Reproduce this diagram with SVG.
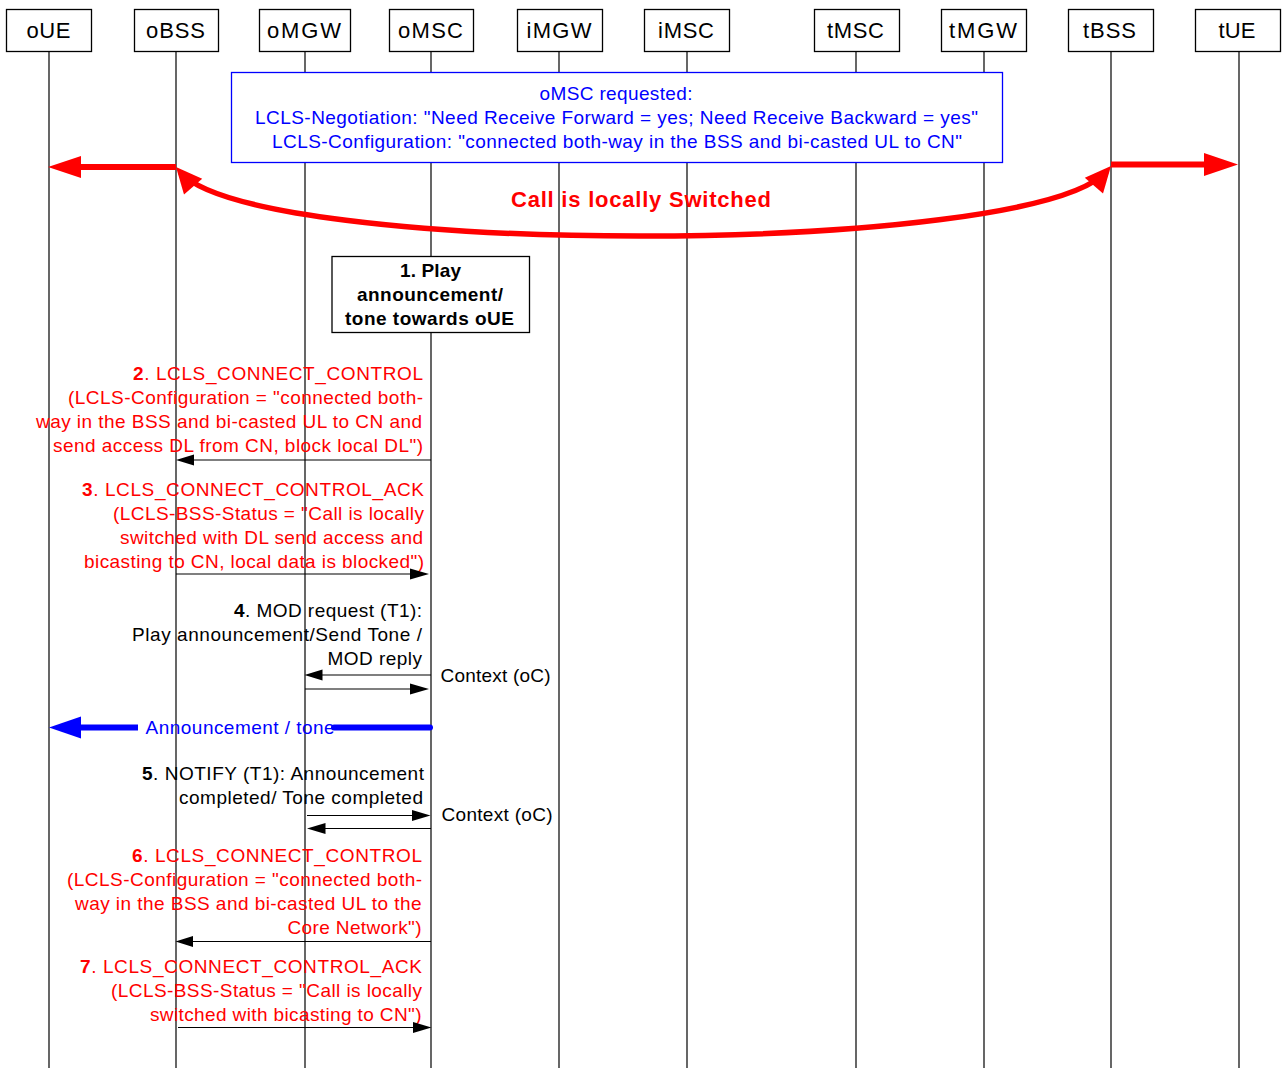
<svg xmlns="http://www.w3.org/2000/svg" width="1282" height="1068" viewBox="0 0 1282 1068">
<style>
text{font-family:"Liberation Sans",Arial,sans-serif;font-size:19px}
.hb{fill:#fff;stroke:#000;stroke-width:1.3}
.ht{font-size:22px;text-anchor:middle;fill:#000}
.ll{stroke:#000;stroke-width:1.2}
.m{stroke:#000;stroke-width:1.2;fill:none}
.ah{fill:#000}
.red{fill:#f00}
.blk{fill:#000}
.blu{fill:#00f}
.r{text-anchor:end}
.c{text-anchor:middle}
.b{font-weight:bold}
</style>
<g id="lifelines">
<line class="ll" x1="49" y1="52" x2="49" y2="1068"/>
<line class="ll" x1="176" y1="52" x2="176" y2="1068"/>
<line class="ll" x1="305" y1="52" x2="305" y2="1068"/>
<line class="ll" x1="431" y1="52" x2="431" y2="1068"/>
<line class="ll" x1="559" y1="52" x2="559" y2="1068"/>
<line class="ll" x1="687" y1="52" x2="687" y2="1068"/>
<line class="ll" x1="856" y1="52" x2="856" y2="1068"/>
<line class="ll" x1="984" y1="52" x2="984" y2="1068"/>
<line class="ll" x1="1111" y1="52" x2="1111" y2="1068"/>
<line class="ll" x1="1239" y1="52" x2="1239" y2="1068"/>
</g>
<g id="oUE"><rect class="hb" x="6.5" y="9.5" width="85" height="42"/><text class="ht" x="48.5" y="38" textLength="44" lengthAdjust="spacing">oUE</text></g>
<g id="oBSS"><rect class="hb" x="134.5" y="9.5" width="84" height="42"/><text class="ht" x="175.5" y="38" textLength="59" lengthAdjust="spacing">oBSS</text></g>
<g id="oMGW"><rect class="hb" x="259.5" y="9.5" width="91" height="42"/><text class="ht" x="304" y="38" textLength="74" lengthAdjust="spacing">oMGW</text></g>
<g id="oMSC"><rect class="hb" x="389.5" y="9.5" width="84" height="42"/><text class="ht" x="430.5" y="38" textLength="65" lengthAdjust="spacing">oMSC</text></g>
<g id="iMGW"><rect class="hb" x="517.5" y="9.5" width="85" height="42"/><text class="ht" x="559" y="38" textLength="65" lengthAdjust="spacing">iMGW</text></g>
<g id="iMSC"><rect class="hb" x="644.5" y="9.5" width="85" height="42"/><text class="ht" x="686" y="38" textLength="56" lengthAdjust="spacing">iMSC</text></g>
<g id="tMSC"><rect class="hb" x="814.5" y="9.5" width="85" height="42"/><text class="ht" x="855.5" y="38" textLength="57" lengthAdjust="spacing">tMSC</text></g>
<g id="tMGW"><rect class="hb" x="941.5" y="9.5" width="85" height="42"/><text class="ht" x="983" y="38" textLength="68" lengthAdjust="spacing">tMGW</text></g>
<g id="tBSS"><rect class="hb" x="1068.5" y="9.5" width="85" height="42"/><text class="ht" x="1109.5" y="38" textLength="53" lengthAdjust="spacing">tBSS</text></g>
<g id="tUE"><rect class="hb" x="1195.5" y="9.5" width="85" height="42"/><text class="ht" x="1237" y="38" textLength="37" lengthAdjust="spacing">tUE</text></g>

<g id="note">
<rect x="231.5" y="72.5" width="771" height="90" fill="#fff" stroke="#00f" stroke-width="1.3"/>
<text class="c blu" x="616" y="100" textLength="153" lengthAdjust="spacing">oMSC requested:</text>
<text class="c blu" x="616.5" y="124" textLength="723" lengthAdjust="spacing">LCLS-Negotiation: "Need Receive Forward = yes; Need Receive Backward = yes"</text>
<text class="c blu" x="617" y="148" textLength="690" lengthAdjust="spacing">LCLS-Configuration: "connected both-way in the BSS and bi-casted UL to CN"</text>
</g>

<g id="step1">
<rect x="332" y="256.5" width="197.5" height="76" fill="#fff" stroke="#000" stroke-width="1.3"/>
<text class="c b blk" x="430.5" y="277" textLength="61" lengthAdjust="spacing">1. Play</text>
<text class="c b blk" x="430" y="301" textLength="146" lengthAdjust="spacing">announcement/</text>
<text class="c b blk" x="429.5" y="325" textLength="169" lengthAdjust="spacing">tone towards oUE</text>
</g>

<g id="connectors">
<line x1="176" y1="167" x2="78" y2="167" stroke="#f00" stroke-width="6"/>
<polygon points="48,167 81,156 81,178" fill="#f00"/>
<line x1="1111" y1="164.5" x2="1206" y2="164.5" stroke="#f00" stroke-width="6"/>
<polygon points="1238,164.5 1204,153 1204,176" fill="#f00"/>
<path d="M180,172 C255,258 1032,257 1107,171" fill="none" stroke="#f00" stroke-width="5.5"/>
<polygon points="176,167 184,194.5 202.2,178.7" fill="#f00"/>
<polygon points="1111,166 1103,193.5 1084.8,177.7" fill="#f00"/>
<text class="c b red" x="641" y="207" style="font-size:22px" textLength="260" lengthAdjust="spacing">Call is locally Switched</text>

<text class="r red" x="423" y="380" textLength="290" lengthAdjust="spacing"><tspan class="b">2</tspan>. LCLS_CONNECT_CONTROL</text>
<text class="r red" x="423" y="404" textLength="355" lengthAdjust="spacing">(LCLS-Configuration = "connected both-</text>
<text class="r red" x="422" y="428" textLength="386" lengthAdjust="spacing">way in the BSS and bi-casted UL to CN and</text>
<text class="r red" x="423" y="452" textLength="370" lengthAdjust="spacing">send access DL from CN, block local DL")</text>
<line class="m" x1="431" y1="460" x2="192" y2="460"/>
<polygon class="ah" points="176,460 194,454.5 194,465.5"/>

<text class="r red" x="424" y="496" textLength="342" lengthAdjust="spacing"><tspan class="b">3</tspan>. LCLS_CONNECT_CONTROL_ACK</text>
<text class="r red" x="424" y="520" textLength="311" lengthAdjust="spacing">(LCLS-BSS-Status = "Call is locally</text>
<text class="r red" x="423" y="544" textLength="303" lengthAdjust="spacing">switched with DL send access and</text>
<text class="r red" x="424" y="568" textLength="340" lengthAdjust="spacing">bicasting to CN, local data is blocked")</text>
<line class="m" x1="176" y1="574" x2="412" y2="574"/>
<polygon class="ah" points="429,574 410,568.5 410,579.5"/>

<text class="r blk" x="422" y="617" textLength="188" lengthAdjust="spacing"><tspan class="b">4</tspan>. MOD request (T1):</text>
<text class="r blk" x="422" y="641" textLength="290" lengthAdjust="spacing">Play announcement/Send Tone /</text>
<text class="r blk" x="422" y="665" textLength="94.5" lengthAdjust="spacing">MOD reply</text>
<line class="m" x1="431" y1="675" x2="320" y2="675"/>
<polygon class="ah" points="304.5,675 322.5,669.5 322.5,680.5"/>
<line class="m" x1="305" y1="689" x2="412" y2="689"/>
<polygon class="ah" points="429,689 410,683.5 410,694.5"/>
<text class="blk" x="440.5" y="682" textLength="110" lengthAdjust="spacing">Context (oC)</text>

<line x1="78" y1="727.5" x2="138" y2="727.5" stroke="#00f" stroke-width="6"/>
<line x1="334" y1="727.5" x2="430" y2="727.5" stroke="#00f" stroke-width="6" stroke-linecap="round"/>
<polygon points="49,727.5 81,716.5 81,738.5" fill="#00f"/>
<text class="blu" x="145.6" y="733.5" textLength="189" lengthAdjust="spacing">Announcement / tone</text>

<text class="r blk" x="424" y="780" textLength="282" lengthAdjust="spacing"><tspan class="b">5</tspan>. NOTIFY (T1): Announcement</text>
<text class="r blk" x="423" y="804" textLength="244" lengthAdjust="spacing">completed/ Tone completed</text>
<line class="m" x1="307" y1="815.5" x2="413" y2="815.5"/>
<polygon class="ah" points="430.5,815.5 412,810 412,821"/>
<line class="m" x1="431" y1="828.5" x2="322" y2="828.5"/>
<polygon class="ah" points="307,828.5 325.5,823 325.5,834"/>
<text class="blk" x="441.5" y="821" textLength="111" lengthAdjust="spacing">Context (oC)</text>

<text class="r red" x="422" y="862" textLength="290" lengthAdjust="spacing"><tspan class="b">6</tspan>. LCLS_CONNECT_CONTROL</text>
<text class="r red" x="422" y="886" textLength="355" lengthAdjust="spacing">(LCLS-Configuration = "connected both-</text>
<text class="r red" x="421.5" y="910" textLength="346.5" lengthAdjust="spacing">way in the BSS and bi-casted UL to the</text>
<text class="r red" x="421.5" y="934" textLength="134" lengthAdjust="spacing">Core Network")</text>
<line class="m" x1="431" y1="941.5" x2="191" y2="941.5"/>
<polygon class="ah" points="175.5,941.5 193,936 193,947"/>

<text class="r red" x="422" y="973" textLength="342" lengthAdjust="spacing"><tspan class="b">7</tspan>. LCLS_CONNECT_CONTROL_ACK</text>
<text class="r red" x="422" y="997" textLength="311" lengthAdjust="spacing">(LCLS-BSS-Status = "Call is locally</text>
<text class="r red" x="421.5" y="1021" textLength="271.5" lengthAdjust="spacing">switched with bicasting to CN")</text>
<line class="m" x1="178" y1="1027.5" x2="414" y2="1027.5"/>
<polygon class="ah" points="431.5,1027.5 413,1022 413,1033"/>
</g>
</svg>
